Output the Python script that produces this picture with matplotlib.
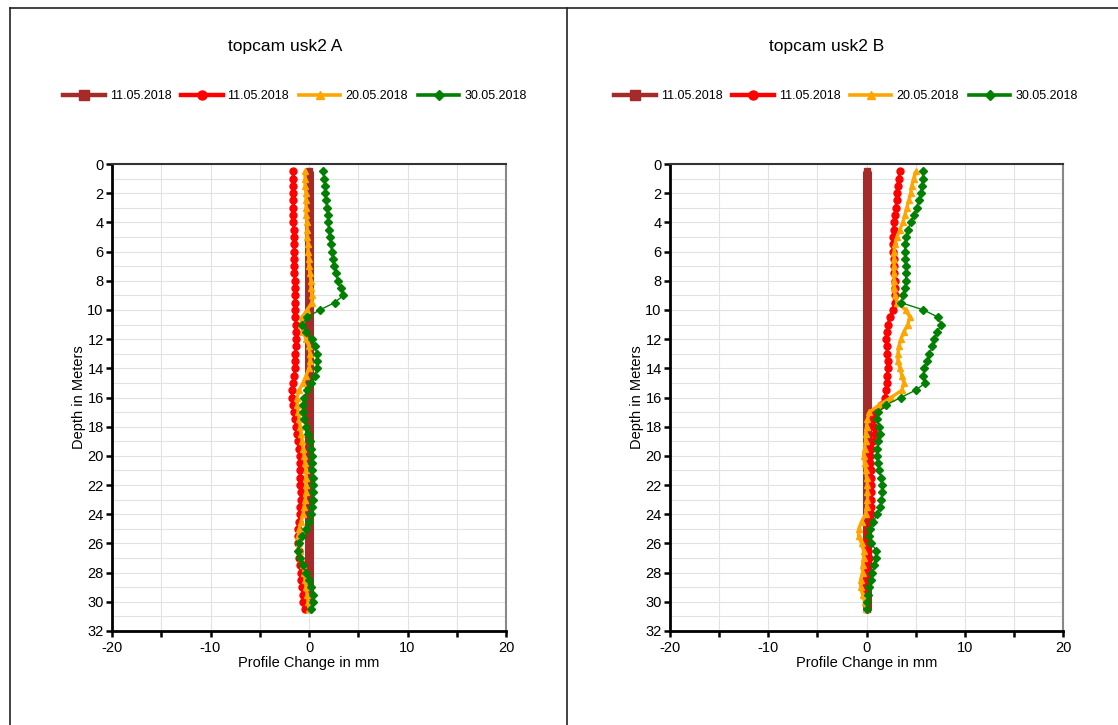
import matplotlib
matplotlib.use("Agg")
import matplotlib.pyplot as plt
from matplotlib.lines import Line2D
from matplotlib.ticker import MultipleLocator

plt.rcParams['font.family'] = ['Liberation Sans', 'DejaVu Sans']
plt.rcParams['axes.unicode_minus'] = False

# Depth of each measuring point (m)
depth = [0.5, 1.0, 1.5, 2.0, 2.5, 3.0, 3.5, 4.0, 4.5, 5.0,
         5.5, 6.0, 6.5, 7.0, 7.5, 8.0, 8.5, 9.0, 9.5, 10.0,
         10.5, 11.0, 11.5, 12.0, 12.5, 13.0, 13.5, 14.0, 14.5, 15.0,
         15.5, 16.0, 16.5, 17.0, 17.5, 18.0, 18.5, 19.0, 19.5, 20.0,
         20.5, 21.0, 21.5, 22.0, 22.5, 23.0, 23.5, 24.0, 24.5, 25.0,
         25.5, 26.0, 26.5, 27.0, 27.5, 28.0, 28.5, 29.0, 29.5, 30.0,
         30.5]

series_labels = ["11.05.2018", "11.05.2018", "20.05.2018", "30.05.2018"]

# Borehole A: profile change (mm)
a_base = [0.0] * 61
a_1105 = [-1.6, -1.6, -1.6, -1.6, -1.6, -1.6, -1.6, -1.6, -1.5, -1.5,
          -1.5, -1.5, -1.5, -1.5, -1.5, -1.4, -1.4, -1.4, -1.4, -1.4,
          -1.4, -1.3, -1.3, -1.3, -1.3, -1.4, -1.4, -1.4, -1.5, -1.6,
          -1.7, -1.7, -1.6, -1.5, -1.4, -1.3, -1.2, -1.1, -1.0, -0.9,
          -0.9, -0.9, -0.9, -0.9, -0.8, -0.8, -0.9, -0.9, -1.0, -1.1,
          -1.1, -1.1, -1.0, -1.0, -0.9, -0.8, -0.8, -0.7, -0.6, -0.6,
          -0.4]
a_2005 = [-0.4, -0.4, -0.4, -0.3, -0.3, -0.3, -0.3, -0.2, -0.2, -0.2,
          -0.1, -0.1, 0.0, 0.0, 0.1, 0.2, 0.2, 0.3, 0.3, -0.2,
          -0.7, -0.8, -0.6, -0.3, 0.0, 0.1, 0.1, 0.0, -0.3, -0.6,
          -1.0, -1.2, -1.2, -1.1, -1.0, -0.9, -0.8, -0.7, -0.6, -0.5,
          -0.4, -0.3, -0.3, -0.3, -0.3, -0.4, -0.5, -0.6, -0.8, -1.0,
          -1.1, -1.0, -0.9, -0.8, -0.6, -0.5, -0.4, -0.3, -0.2, -0.1,
          0.0]
a_3005 = [1.4, 1.5, 1.6, 1.6, 1.7, 1.8, 1.9, 1.9, 2.0, 2.1,
          2.2, 2.3, 2.4, 2.5, 2.7, 2.9, 3.2, 3.5, 2.6, 1.1,
          -0.2, -0.7, -0.3, 0.3, 0.6, 0.8, 0.8, 0.8, 0.6, 0.2,
          -0.2, -0.5, -0.6, -0.6, -0.5, -0.3, -0.1, 0.1, 0.2, 0.3,
          0.3, 0.3, 0.4, 0.4, 0.4, 0.4, 0.3, 0.2, 0.0, -0.3,
          -0.7, -1.0, -1.1, -0.9, -0.6, -0.3, 0.0, 0.2, 0.4, 0.4,
          0.2]

# Borehole B: profile change (mm)
b_base = [0.0] * 61
b_1105 = [3.4, 3.3, 3.2, 3.1, 3.1, 3.0, 2.9, 2.8, 2.8, 2.7,
          2.7, 2.7, 2.8, 2.8, 2.8, 2.9, 2.9, 2.9, 2.9, 2.7,
          2.4, 2.2, 2.1, 2.0, 2.1, 2.1, 2.2, 2.2, 2.1, 2.1,
          2.0, 1.9, 1.5, 0.9, 0.7, 0.8, 0.9, 0.7, 0.5, 0.4,
          0.4, 0.5, 0.5, 0.5, 0.5, 0.5, 0.5, 0.5, 0.4, 0.2,
          0.1, 0.0, 0.2, 0.3, 0.2, 0.1, 0.0, -0.2, -0.1, 0.0,
          0.0]
b_2005 = [5.0, 4.8, 4.6, 4.5, 4.3, 4.1, 3.9, 3.7, 3.4, 3.1,
          2.9, 2.8, 2.8, 2.8, 2.8, 2.8, 2.8, 2.9, 3.1, 4.0,
          4.4, 4.2, 3.8, 3.5, 3.3, 3.2, 3.2, 3.4, 3.6, 3.8,
          3.6, 2.5, 1.3, 0.3, 0.1, 0.0, -0.1, -0.1, -0.2, -0.3,
          -0.2, -0.1, 0.0, 0.1, 0.1, 0.1, 0.0, -0.1, -0.5, -0.8,
          -0.8, -0.5, -0.3, -0.3, -0.4, -0.4, -0.6, -0.6, -0.4, -0.2,
          -0.1]
b_3005 = [5.7, 5.7, 5.6, 5.5, 5.3, 5.1, 4.8, 4.5, 4.2, 4.0,
          3.9, 3.9, 3.9, 4.0, 4.0, 4.0, 3.9, 3.7, 3.5, 5.8,
          7.3, 7.6, 7.2, 6.9, 6.7, 6.4, 6.2, 5.9, 5.8, 6.0,
          5.0, 3.5, 2.0, 1.2, 1.1, 1.3, 1.4, 1.2, 1.1, 1.1,
          1.2, 1.3, 1.5, 1.6, 1.6, 1.5, 1.4, 1.1, 0.7, 0.4,
          0.3, 0.5, 1.0, 1.0, 0.8, 0.6, 0.5, 0.3, 0.2, 0.1,
          0.0]

panels = [
    ("topcam usk2 A", [a_base, a_1105, a_2005, a_3005]),
    ("topcam usk2 B", [b_base, b_1105, b_2005, b_3005]),
]

styles = [
    dict(color="#a52a2a", lw=6.5, marker="s", ms=4.5, leg_lw=3.2, leg_ms=6.5),
    dict(color="#ff0000", lw=2.4, marker="o", ms=5.0, leg_lw=3.2, leg_ms=6.5),
    dict(color="#ffa500", lw=2.4, marker="^", ms=5.0, leg_lw=2.6, leg_ms=5.5),
    dict(color="#008000", lw=1.0, marker="D", ms=4.0, leg_lw=2.6, leg_ms=5.5),
]

W, H = 1118, 725
fig = plt.figure(figsize=(W / 100, H / 100), dpi=100)

axes_px = [(112, 506), (670, 1063)]
legend_cx = [295, 846]
title_cx = [285, 827]
top_px, bot_px = 164, 631

for (title, values), (x0, x1), lcx, tcx in zip(panels, axes_px, legend_cx, title_cx):
    ax = fig.add_axes([x0 / W, 1 - bot_px / H, (x1 - x0) / W, (bot_px - top_px) / H])
    for vals, st, lab in zip(values, styles, series_labels):
        ax.plot(vals, depth, color=st["color"], lw=st["lw"], marker=st["marker"],
                ms=st["ms"], mec=st["color"], mfc=st["color"], label=lab,
                solid_capstyle="butt")
    ax.set_xlim(-20, 20)
    ax.set_ylim(32, 0)
    ax.xaxis.set_major_locator(MultipleLocator(10))
    ax.xaxis.set_minor_locator(MultipleLocator(5))
    ax.yaxis.set_major_locator(MultipleLocator(2))
    ax.yaxis.set_minor_locator(MultipleLocator(1))
    ax.grid(True, which="both", color="#e2e2e2", lw=0.8)
    ax.set_axisbelow(True)
    ax.tick_params(which="both", direction="out", labelsize=10.5, width=1.8,
                   colors="black", pad=2)
    ax.tick_params(which="major", length=4)
    ax.tick_params(axis="x", which="minor", length=4)
    ax.tick_params(axis="y", which="minor", length=0)
    ax.tick_params(axis="x", pad=3)
    for s in ("left", "bottom"):
        ax.spines[s].set_linewidth(2.0)
        ax.spines[s].set_color("black")
    ax.spines["top"].set_linewidth(1.5)
    ax.spines["top"].set_color("#333333")
    ax.spines["right"].set_linewidth(1.5)
    ax.spines["right"].set_color("#888888")
    ax.set_xlabel("Profile Change in mm", fontsize=10.5, labelpad=1)
    ax.set_ylabel("Depth in Meters", fontsize=10.5, labelpad=1)

    fig.text(tcx / W, 1 - 46 / H, title, ha="center", va="center", fontsize=12.5)

    # legend keys: line with a single centred marker
    keys = [Line2D([], [], color=st["color"], lw=st["leg_lw"], marker=st["marker"],
                   ms=st["leg_ms"], mec=st["color"], mfc=st["color"], label=lab)
            for st, lab in zip(styles, series_labels)]
    fig.legend(handles=keys, loc="center", bbox_to_anchor=(lcx / W, 1 - 96 / H),
               ncol=4, frameon=False, fontsize=9, numpoints=1,
               handlelength=3.3, handletextpad=0.4, columnspacing=0.8)

# page frame around the two panels
frame_kw = dict(color="#222222", lw=1.2, transform=fig.transFigure)
fig.add_artist(Line2D([10 / W, 10 / W], [0, 1 - 8 / H], **frame_kw))
fig.add_artist(Line2D([10 / W, 1], [1 - 8 / H, 1 - 8 / H], **frame_kw))
fig.add_artist(Line2D([567 / W, 567 / W], [0, 1 - 8 / H], **frame_kw))

fig.savefig("out.png", dpi=100)
